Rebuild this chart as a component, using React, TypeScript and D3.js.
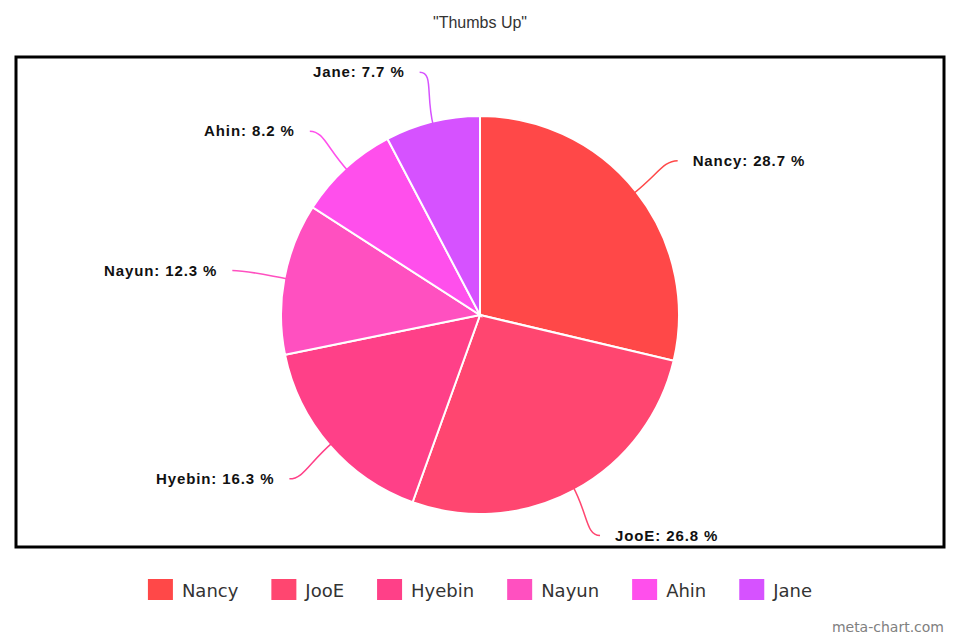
import React from "react";
import * as d3 from "d3";

const categories = ["Nancy", "JooE", "Hyebin", "Nayun", "Ahin", "Jane"];
const values = [28.7, 26.8, 16.3, 12.3, 8.2, 7.7];
const colors = ["#FF4848", "#FF4670", "#FF4088", "#FF50C0", "#FF4FEC", "#D652FF"];
const title = '"Thumbs Up"';

const W = 960;
const H = 640;
const cx = 480;
const cy = 315;
const R = 199;
const labelR = 252;

function measure(text: string, font: string): number {
  if (typeof document === "undefined") return text.length * 10;
  const c = document.createElement("canvas");
  const ctx = c.getContext("2d");
  if (!ctx) return text.length * 10;
  ctx.font = font;
  return ctx.measureText(text).width;
}

export default function App() {
  const data = categories.map((c, i) => ({ name: c, value: values[i], color: colors[i] }));
  const pie = d3
    .pie<any>()
    .sort(null)
    .value((d: any) => d.value)
    .startAngle(0)
    .endAngle(Math.PI * 2);
  const arcs = pie(data);
  const arc = d3.arc<any>().innerRadius(0).outerRadius(R);

  // legend layout
  const legendFont = '18px "DejaVu Sans"';
  const sq = 25;
  const textGap = 9;
  const itemGap = 33;
  const widths = categories.map((c) => measure(c, legendFont));
  const itemWidths = widths.map((w) => sq + textGap + w);
  const total = itemWidths.reduce((a, b) => a + b, 0) + itemGap * (categories.length - 1);
  let lx = W / 2 - total / 2;
  const legendItems = categories.map((c, i) => {
    const x = lx;
    lx += itemWidths[i] + itemGap;
    return { name: c, x, color: colors[i] };
  });

  return (
    <svg width={W} height={H} style={{ position: "absolute", left: 0, top: 0, background: "#fff" }}>
      <rect x={0} y={0} width={W} height={H} fill="#fff" />
      <text
        x={W / 2}
        y={28}
        textAnchor="middle"
        fontFamily='"Liberation Sans", Arial, sans-serif'
        fontSize={16}
        fill="#333"
      >
        {title}
      </text>
      <rect x={16} y={57} width={928} height={490} fill="none" stroke="#000" strokeWidth={3} />
      <g transform={`translate(${cx},${cy})`}>
        {arcs.map((a: any, i: number) => (
          <path key={i} d={arc(a) as string} fill={a.data.color} stroke="#fff" strokeWidth={2} />
        ))}
        {arcs.map((a: any, i: number) => {
          const mid = (a.startAngle + a.endAngle) / 2;
          const sx = Math.sin(mid);
          const sy = -Math.cos(mid);
          const side = sx >= 0 ? 1 : -1;
          const p0 = [sx * (R - 4), sy * (R - 4)];
          const p1 = [sx * (R + 28), sy * (R + 28)];
          const p3 = [sx * labelR, sy * labelR + (sy < 0 ? 2 : -1)];
          const p2 = [p3[0] - side * 14, p3[1]];
          const path = `M${p0[0]},${p0[1]} C${p1[0]},${p1[1]} ${p2[0]},${p2[1]} ${p3[0]},${p3[1]}`;
          const label = `${a.data.name}: ${a.data.value.toFixed(1)} %`;
          return (
            <g key={"l" + i}>
              <path d={path} fill="none" stroke={a.data.color} strokeWidth={1.5} />
              <text
                x={p3[0] + side * 15}
                y={p3[1] + 5}
                textAnchor={side > 0 ? "start" : "end"}
                fontFamily='"Liberation Sans", Arial, sans-serif'
                fontWeight="bold"
                fontSize={15}
                letterSpacing={0.9}
                fill="#111"
              >
                {label}
              </text>
            </g>
          );
        })}
      </g>
      <g>
        {legendItems.map((it, i) => (
          <g key={i}>
            <rect x={it.x} y={579} width={sq} height={21} fill={it.color} />
            <text
              x={it.x + sq + textGap}
              y={597}
              fontFamily='"DejaVu Sans", sans-serif'
              fontSize={18}
              fill="#333"
            >
              {it.name}
            </text>
          </g>
        ))}
      </g>
      <text
        x={944}
        y={632}
        textAnchor="end"
        fontFamily='"DejaVu Sans", sans-serif'
        fontSize={14}
        fill="#808080"
      >
        meta-chart.com
      </text>
    </svg>
  );
}
